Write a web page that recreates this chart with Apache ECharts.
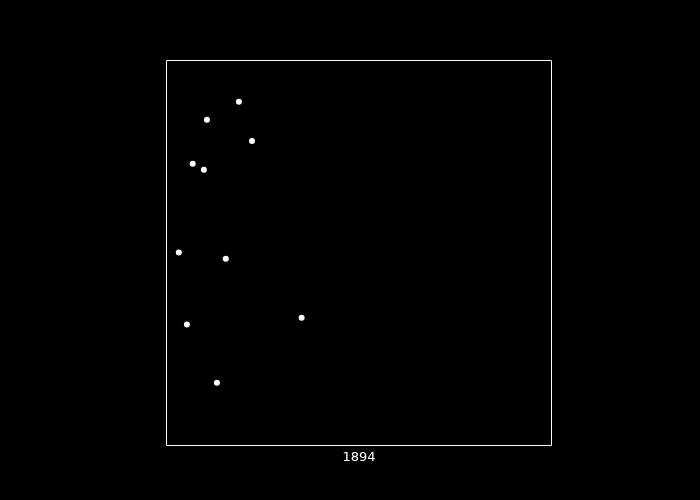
<!DOCTYPE html>
<html>
<head>
<meta charset="utf-8">
<script src="https://cdn.jsdelivr.net/npm/echarts@6/dist/echarts.min.js"></script>
<style>html,body{margin:0;padding:0;background:#000;}#c{width:700px;height:500px;}</style>
</head>
<body>
<div id="c"></div>
<script>
var xLabel = '1894';
var xValues = [18.8, 10.5, 22.2, 6.8, 9.7, 3.2, 15.4, 5.3, 35.1, 13.1];
var yValues = [89.3, 84.6, 79.1, 73.2, 71.6, 50.1, 48.5, 31.4, 33.2, 16.3];

var points = xValues.map(function (x, i) { return [x, yValues[i]]; });

var chart = echarts.init(document.getElementById('c'), null, {renderer: 'canvas'});
chart.setOption({
  backgroundColor: '#000000',
  animation: false,
  grid: {
    left: 166.5, top: 60.5, width: 385, height: 385, show: false
  },
  graphic: [{
    type: 'rect',
    silent: true,
    shape: {x: 166.5, y: 60.5, width: 385, height: 385},
    style: {fill: 'none', stroke: '#ffffff', lineWidth: 1}
  }],
  xAxis: {
    type: 'value', min: 0, max: 100,
    name: xLabel, nameLocation: 'middle', nameGap: 6,
    nameTextStyle: {color: '#ffffff', fontSize: 13, fontFamily: 'DejaVu Sans', verticalAlign: 'top'},
    axisLine: {show: false}, axisTick: {show: false}, axisLabel: {show: false}, splitLine: {show: false}
  },
  yAxis: {
    type: 'value', min: 0, max: 100,
    axisLine: {show: false}, axisTick: {show: false}, axisLabel: {show: false}, splitLine: {show: false}
  },
  series: [{
    type: 'scatter',
    data: points,
    symbolSize: 6,
    itemStyle: {color: '#ffffff', opacity: 1}
  }]
});
</script>
</body>
</html>
